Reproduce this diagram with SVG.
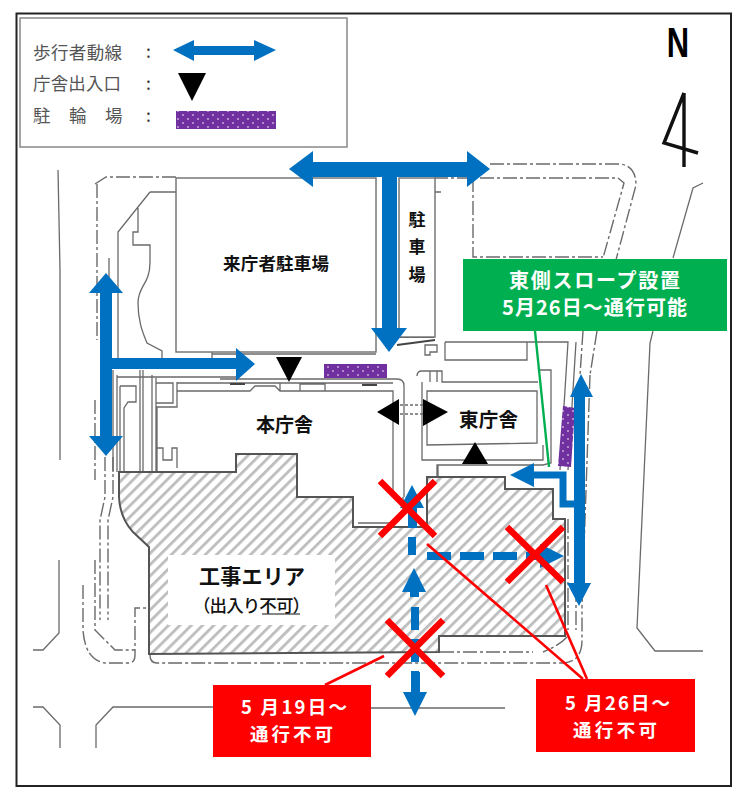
<svg xmlns="http://www.w3.org/2000/svg" width="755" height="800" viewBox="0 0 755 800">
<style>
text{font-family:"Noto Sans CJK JP","Noto Sans",sans-serif}
.m{fill:none;stroke:#6a6a6a;stroke-width:1.3}
.d{fill:none;stroke:#6a6a6a;stroke-width:1.4;stroke-dasharray:14 3 3 3}
.k{fill:none;stroke:#444;stroke-width:1.8}
.b{fill:#0070c0}
.bl{fill:none;stroke:#0070c0}
.x{stroke:#f00;stroke-width:6.5;fill:none}
.r{stroke:#f00;stroke-width:2.6;fill:none}
.t{fill:#000}
.lg{fill:#555;font-size:17.5px}
.lb{fill:#111;font-weight:700}
.w{fill:#fff;font-weight:700;font-size:20px}
.n{fill:#fff;font-weight:700;font-size:18.5px}
.bx{fill:#fff;stroke:#777;stroke-width:1.5}
</style>
<defs>
<pattern id="hatch" width="8" height="8" patternUnits="userSpaceOnUse" patternTransform="rotate(45)"><rect width="8" height="8" fill="#fff"/><rect width="2.8" height="8" fill="#bdbdbd"/></pattern>
<pattern id="dots" width="10" height="8" patternUnits="userSpaceOnUse" x="0" y="1"><rect width="10" height="8" fill="#7030a0"/><circle cx="3" cy="2" r=".8" fill="#fff"/><circle cx="8" cy="6" r=".8" fill="#fff"/></pattern>
</defs>
<rect width="755" height="800" fill="#fff"/>
<g id="map">
<path class="m" d="M58 170L60 270M60 270V460M59 560V633L43 650H33M33 707H43L60 725V748M96 748V725L113 707H213M371 708H505"/>
<path class="m" d="M703 183L693 188L673 258M653 331L650 343L637 628L655 651H703"/>
<path class="d" d="M95 184L106 177H176M97 184V340M95 400V480M490 164H620Q636 166 636 185L597 331M434 178H618L624 183L603 258M473 178V257H603"/>
<path class="d" d="M583 331L580 375M597 331L590 375"/>
<path class="m" d="M150 192H176M150 192L118 232V358M138 208V232H133V245H150V262C150 285 138 285 138 303C138 322 143 333 147 343L162 351V358M109 258V280M212 352V360M212 354H376M434 192H441"/>
<path class="m" d="M113 370V472M117 375V472M117 377H236M140 370V472M143 370V472M152 375V472M156 378V472M120 386H136V402H128L124 408V472M120 386V472M156 383H173V403H156ZM177 382V407H157V472M157 448H163V460H172V448H177V468"/>
<path class="m" d="M177 383H393M220 379H397Q404 379 404 386V497M177 391H250L255 386H275L280 391H393V497M280 383V391M300 391V384H325V391M403 497V510Q402 520 390 523H358"/>
<path class="k" d="M230 384H245M362 385H377"/>
<path class="m" stroke-dasharray="3 2" d="M400 405H423M400 414H423"/>
<path class="m" d="M417 376Q417 371 422 371H442V382H538M430 371V382M437 371V382M422 382V460H543V445M540 370H551V463L543 465H437V477M427 391H537V443L427 445ZM445 342H568L560 470M445 342V360H527V342M576 342L568 470M425 345H437V352H430V355H425ZM438 465V477"/>
<path class="k" d="M397 345L435 340M399 337H434"/>
<path class="d" d="M113 457V497L108 520V620M105 457V497L100 520V620M95 560V630L115 650H135M83 585V630Q85 660 105 663H128Q135 663 135 655V608H148M150 655Q150 663 157 663H563Q582 662 582 640V606M440 652H533M567 637Q560 645 543 652M590 375L582 606M576 519V630M568 519V630"/>
<path class="m" d="M530 625H548V632H536ZM530 625L525 636"/>
</g>
<g id="n-mark">
<text x="678" y="57" font-size="43" font-weight="700" text-anchor="middle" transform="translate(678 0) scale(.72 1) translate(-678 0)" style="font-family:'Liberation Sans',sans-serif">N</text>
<path d="M684 93L664 143L698 153M684 93V167" fill="none" stroke="#111" stroke-width="3.4"/>
</g>
<g id="work-area">
<path d="M119 472H236V454H297V497H353V527H427V477H505V489H553V519H565V636H439V652L149 654V547L133 532Q120 518 119 497Z" fill="url(#hatch)" stroke="#555" stroke-width="2"/>
<rect x="168" y="555" width="167" height="70" fill="#fff"/>
<text class="lb" x="199" y="584" font-size="21" textLength="106">工事エリア</text>
<text x="193" y="612" font-size="17.5" font-weight="500" fill="#111" textLength="117">（出入り不可）</text>
<path d="M262 614H300" stroke="#111" stroke-width="1.2"/>
</g>
<g id="parking-visitor"><rect class="bx" x="176" y="178" width="200" height="174"/><text class="lb" x="223" y="270" font-size="17.5" textLength="106">来庁者駐車場</text></g>
<g id="parking-side"><rect class="bx" x="399" y="178" width="36" height="159"/><text class="lb" font-size="17" text-anchor="middle" x="417" y="226">駐</text><text class="lb" font-size="17" text-anchor="middle" x="417" y="253">車</text><text class="lb" font-size="17" text-anchor="middle" x="417" y="281">場</text></g>
<g id="main-building"><text class="lb" x="256" y="432" font-size="19" textLength="57">本庁舎</text></g>
<g id="east-building"><text class="lb" x="459" y="427" font-size="19.5" textLength="59">東庁舎</text></g>
<g id="bike-parking">
<rect x="324" y="364" width="63" height="14" fill="url(#dots)"/>
<path d="M563 406L575 408L571 467L558 466Z" fill="url(#dots)"/>
</g>
<g id="entrances">
<path class="t" d="M276 357H302L289 382Z"/>
<path class="t" d="M399 399V425L377 412Z"/>
<path class="t" d="M423 399V426L448 412Z"/>
<path class="t" d="M475 442L488 464H462Z"/>
</g>
<g id="connectors">
<path class="b" d="M289 169L313 151V162H467V151L490 169L467 187V177H313V187Z"/>
<path class="b" d="M382 170H397V328H407L389 352L371 328H382Z"/>
<path class="b" d="M106 273L123 293H112V358H236V348L255 364L236 381V369H112V436H123L106 456L89 436H100V293H89Z"/>
<path class="b" d="M581 374L593 397H585V583H591L579 606L567 583H574V397H570Z"/>
<path class="bl" stroke-width="7" d="M534 475H563V504H578"/>
<path class="b" d="M510 475L534 463V487Z"/>
<path class="b" d="M412 485L424 508H417V528H408V508H400Z"/>
<path class="bl" stroke-width="8" d="M412 537V555"/>
<path class="bl" stroke-width="8" stroke-dasharray="24 9" d="M427 556H540"/>
<path class="b" d="M564 556L540 544V568Z"/>
<path class="b" d="M414 568L426 592H419V597H410V592H402Z"/>
<path class="bl" stroke-width="8" stroke-dasharray="23 9" d="M415 607V692"/>
<path class="b" d="M415 716L403 692H411V672H420V692H427Z"/>
<path d="M535 331L549 467" fill="none" stroke="#00b050" stroke-width="2.4"/>
<path class="r" d="M427 544L583 679M546 585L587 679M384 656L325 685"/>
<path class="x" d="M380 481L435 536M435 481L380 536M507 527L563 582M563 527L507 582M387 620L443 676M443 620L387 676"/>
</g>
<g id="notice-slope"><rect x="463" y="259" width="264" height="72" fill="#00b050"/><text class="w" x="509" y="288" font-size="21" textLength="171">東側スロープ設置</text><text class="w" x="502" y="315" textLength="185">5月26日～通行可能</text></g>
<g id="notice-519"><rect x="213" y="685" width="158" height="72" fill="#f00"/><text class="n" x="241" y="714" textLength="106" xml:space="preserve">5 月19日～</text><text class="n" x="250" y="741" textLength="83">通行不可</text></g>
<g id="notice-526"><rect x="536" y="679" width="159" height="73" fill="#f00"/><text class="n" x="565" y="709.5" textLength="105" xml:space="preserve">5 月26日～</text><text class="n" x="573" y="736.5" textLength="84">通行不可</text></g>
<g id="legend">
<rect x="20" y="18" width="327" height="129" fill="#fff" stroke="#888" stroke-width="1.5"/>
<text class="lg" x="33" y="59" textLength="89">歩行者動線</text>
<text class="lg" x="33" y="90" textLength="88">庁舎出入口</text>
<text class="lg" x="33" y="122">駐</text><text class="lg" x="69" y="122">輪</text><text class="lg" x="105" y="122">場</text>
<text class="lg" x="146" y="58" style="fill:#333">:</text><text class="lg" x="146" y="90" style="fill:#333">:</text><text class="lg" x="146" y="122" style="fill:#333">:</text>
<path class="b" d="M173 50L194 40V46H254V40L276 50L254 61V55H194V61Z"/>
<path class="t" d="M178 73H206L192 101Z"/>
<rect x="176" y="111" width="100" height="18" fill="url(#dots)"/>
</g>
<rect id="frame" x="16.5" y="13.5" width="714.5" height="772.5" fill="none" stroke="#222" stroke-width="2"/>
</svg>
